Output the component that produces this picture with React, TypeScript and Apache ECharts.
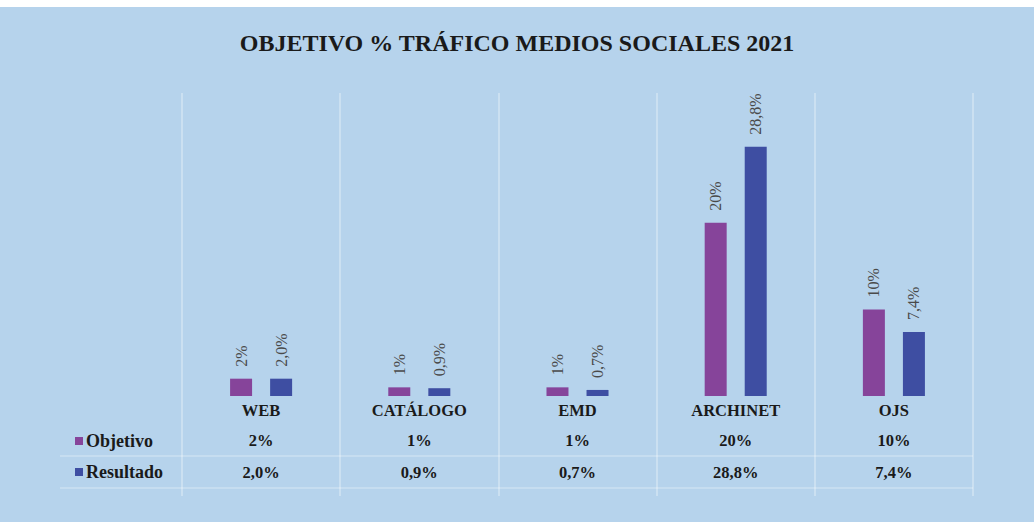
import React, { useEffect, useRef } from "react";
import * as echarts from "echarts";

const TITLE = "OBJETIVO % TRÁFICO MEDIOS SOCIALES 2021";
const categories = ["WEB", "CATÁLOGO", "EMD", "ARCHINET", "OJS"];
const objetivo = [2, 1, 1, 20, 10];
const resultado = [2.0, 0.9, 0.7, 28.8, 7.4];
const seriesNames = ["Objetivo", "Resultado"];

const fmtObj = (v: number) => `${v.toFixed(0)}%`;
const fmtRes = (v: number) => `${v.toFixed(1).replace(".", ",")}%`;

const PURPLE = "#86449a";
const BLUE = "#3e4ea2";
const BG = "#b6d3ec";
const SERIF = "'Liberation Serif', 'DejaVu Serif', serif";

export default function App() {
  const ref = useRef<HTMLDivElement>(null);
  useEffect(() => {
    document.body.style.margin = "0";
    const chart = echarts.init(ref.current!, null, { renderer: "svg" });
    const barLabel = (fmt: (v: number) => string) => ({
      show: true,
      position: "top" as const,
      rotate: 90,
      align: "left" as const,
      verticalAlign: "middle" as const,
      distance: 12,
      fontFamily: SERIF,
      fontSize: 16,
      color: "#4a4a4a",
      formatter: (p: any) => fmt(p.value),
    });
    chart.setOption({
      animation: false,
      backgroundColor: BG,
      title: {
        text: TITLE,
        left: "center",
        top: 19,
        textStyle: {
          fontFamily: SERIF,
          fontWeight: "bold",
          fontSize: 24,
          color: "#1a1a1a",
        },
      },
      legend: {
        orient: "vertical",
        left: 70,
        top: 420,
        itemWidth: 8,
        itemHeight: 8,
        itemGap: 13,
        icon: "rect",
        data: seriesNames,
        textStyle: {
          fontFamily: SERIF,
          fontWeight: "bold",
          fontSize: 18,
          color: "#1a1a1a",
          padding: [0, 0, 0, -2],
        },
      },
      grid: { left: 182, right: 61, top: 86, bottom: 126 },
      xAxis: {
        type: "category",
        data: categories,
        axisLine: { show: false },
        axisTick: {
          show: true,
          length: 100,
          lineStyle: { color: "rgba(255,255,255,0.4)", width: 1.5 },
        },
        splitLine: {
          show: true,
          lineStyle: { color: "rgba(255,255,255,0.4)", width: 1.5 },
        },
        axisLabel: {
          margin: 0,
          interval: 0,
          formatter: (value: string, idx: number) =>
            `{c|${value}}\n{v|${fmtObj(objetivo[idx])}}\n{v|${fmtRes(resultado[idx])}}`,
          rich: {
            c: {
              fontFamily: SERIF,
              fontWeight: "bold",
              fontSize: 16.5,
              color: "#1a1a1a",
              lineHeight: 28,
            },
            v: {
              fontFamily: SERIF,
              fontWeight: "bold",
              fontSize: 16.5,
              color: "#1a1a1a",
              lineHeight: 32,
            },
          },
        },
      },
      yAxis: {
        type: "value",
        min: 0,
        max: 35,
        show: false,
        splitLine: { show: false },
      },
      graphic: [
        { type: "line", shape: { x1: 60, y1: 449, x2: 973, y2: 449 }, style: { stroke: "rgba(255,255,255,0.3)", lineWidth: 1.5 } },
        { type: "line", shape: { x1: 60, y1: 481, x2: 973, y2: 481 }, style: { stroke: "rgba(255,255,255,0.3)", lineWidth: 1.5 } },
      ],
      series: [
        {
          name: seriesNames[0],
          type: "bar",
          data: objetivo,
          barWidth: 22,
          barGap: "82%",
          itemStyle: { color: PURPLE },
          label: barLabel(fmtObj),
        },
        {
          name: seriesNames[1],
          type: "bar",
          data: resultado,
          barWidth: 22,
          itemStyle: { color: BLUE },
          label: barLabel(fmtRes),
        },
      ],
    });
    return () => chart.dispose();
  }, []);
  return (
    <div style={{ position: "fixed", left: 0, top: 0, width: 1034, height: 526, background: "#ffffff" }}>
      <div ref={ref} style={{ position: "absolute", left: 0, top: 7, width: 1034, height: 515 }} />
    </div>
  );
}
